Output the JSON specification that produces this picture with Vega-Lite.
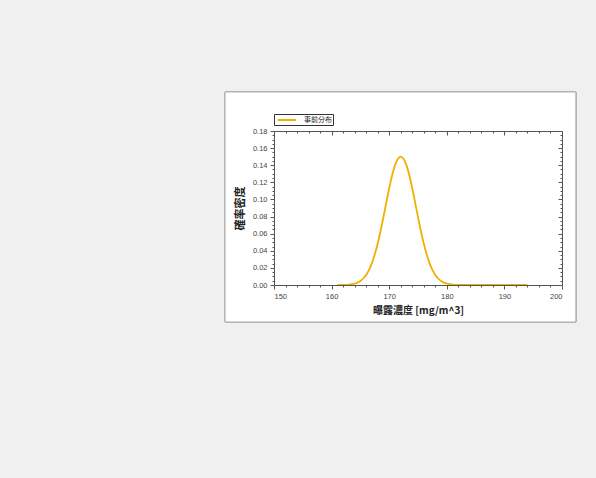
{
  "$schema": "https://vega.github.io/schema/vega-lite/v6.json",
  "autosize": "none",
  "width": 288,
  "height": 154,
  "padding": {"left": 274, "top": 131, "right": 34, "bottom": 193},
  "background": "#f0f0f0",
  "config": {
    "view": {"stroke": null},
    "axis": {
      "domainColor": "#555",
      "tickColor": "#555",
      "labelFont": "Liberation Sans",
      "labelFontSize": 7.5,
      "labelColor": "#444",
      "grid": false,
      "titleFont": "Noto Sans CJK JP",
      "titleFontWeight": "bold",
      "titleColor": "#222"
    }
  },
  "data": {
    "values": [
      {"c": 161, "d": 0.0, "series": "事前分布"},
      {"c": 162, "d": 0.0001, "series": "事前分布"},
      {"c": 163, "d": 0.0005, "series": "事前分布"},
      {"c": 164, "d": 0.0016, "series": "事前分布"},
      {"c": 164.5, "d": 0.0028, "series": "事前分布"},
      {"c": 165, "d": 0.0047, "series": "事前分布"},
      {"c": 165.5, "d": 0.0076, "series": "事前分布"},
      {"c": 166, "d": 0.0118, "series": "事前分布"},
      {"c": 166.5, "d": 0.0177, "series": "事前分布"},
      {"c": 167, "d": 0.0256, "series": "事前分布"},
      {"c": 167.5, "d": 0.0359, "series": "事前分布"},
      {"c": 168, "d": 0.0484, "series": "事前分布"},
      {"c": 168.5, "d": 0.0631, "series": "事前分布"},
      {"c": 169, "d": 0.0794, "series": "事前分布"},
      {"c": 169.5, "d": 0.0964, "series": "事前分布"},
      {"c": 170, "d": 0.1131, "series": "事前分布"},
      {"c": 170.5, "d": 0.128, "series": "事前分布"},
      {"c": 171, "d": 0.1398, "series": "事前分布"},
      {"c": 171.5, "d": 0.1474, "series": "事前分布"},
      {"c": 172, "d": 0.15, "series": "事前分布"},
      {"c": 172.5, "d": 0.1474, "series": "事前分布"},
      {"c": 173, "d": 0.1398, "series": "事前分布"},
      {"c": 173.5, "d": 0.128, "series": "事前分布"},
      {"c": 174, "d": 0.1131, "series": "事前分布"},
      {"c": 174.5, "d": 0.0964, "series": "事前分布"},
      {"c": 175, "d": 0.0794, "series": "事前分布"},
      {"c": 175.5, "d": 0.0631, "series": "事前分布"},
      {"c": 176, "d": 0.0484, "series": "事前分布"},
      {"c": 176.5, "d": 0.0359, "series": "事前分布"},
      {"c": 177, "d": 0.0256, "series": "事前分布"},
      {"c": 177.5, "d": 0.0177, "series": "事前分布"},
      {"c": 178, "d": 0.0118, "series": "事前分布"},
      {"c": 178.5, "d": 0.0076, "series": "事前分布"},
      {"c": 179, "d": 0.0047, "series": "事前分布"},
      {"c": 179.5, "d": 0.0028, "series": "事前分布"},
      {"c": 180, "d": 0.0016, "series": "事前分布"},
      {"c": 181, "d": 0.0005, "series": "事前分布"},
      {"c": 182, "d": 0.0001, "series": "事前分布"},
      {"c": 183, "d": 0.0, "series": "事前分布"},
      {"c": 194, "d": 0.0, "series": "事前分布"}
    ]
  },
  "layer": [
    {
      "mark": {"type": "rect", "fill": "white", "stroke": "#b4b4b4", "strokeWidth": 1},
      "encoding": {
        "x": {"datum": 141.5, "type": "quantitative", "scale": {"domain": [150, 200], "nice": false, "zero": false}, "axis": null},
        "x2": {"datum": 202.4},
        "y": {"datum": 0.2256, "type": "quantitative", "scale": {"domain": [0, 0.18], "nice": false}, "axis": null},
        "y2": {"datum": -0.0432}
      }
    },
    {
      "mark": {"type": "line", "strokeWidth": 1.8, "interpolate": "monotone"},
      "encoding": {
        "x": {
          "field": "c", "type": "quantitative",
          "axis": {"orient": "bottom", "zindex": 1, "values": [150, 160, 170, 180, 190, 200], "format": "d", "tickSize": 4, "labelPadding": 3, "title": "曝露濃度 [mg/m^3]", "titleFontSize": 10, "titlePadding": 6}
        },
        "y": {
          "field": "d", "type": "quantitative",
          "axis": {"orient": "left", "zindex": 1, "values": [0, 0.02, 0.04, 0.06, 0.08, 0.1, 0.12, 0.14, 0.16, 0.18], "format": ".2f", "tickSize": 4, "labelPadding": 3, "title": "確率密度", "titleFontSize": 11, "titlePadding": 7}
        },
        "color": {
          "field": "series", "type": "nominal",
          "scale": {"range": ["#f0b000"]},
          "legend": {
            "orient": "none", "legendX": 0, "legendY": -17, "title": null,
            "strokeColor": "#333", "fillColor": "white", "padding": 1,
            "symbolType": "M-2.3,0H2.3", "symbolSize": 64, "symbolStrokeWidth": 2,
            "symbolOffset": 7, "labelOffset": 12,
            "labelFont": "Noto Sans CJK JP", "labelFontSize": 7, "labelColor": "#222", "zindex": 2
          }
        }
      }
    },
    {
      "mark": {"type": "line", "opacity": 0},
      "encoding": {
        "x": {"field": "c", "type": "quantitative", "axis": {"orient": "bottom", "zindex": 1, "values": [152, 154, 156, 158, 162, 164, 166, 168, 172, 174, 176, 178, 182, 184, 186, 188, 192, 194, 196, 198], "labels": false, "domain": false, "tickSize": 2, "title": null}},
        "y": {"field": "d", "type": "quantitative", "axis": {"orient": "left", "zindex": 1, "values": [0.005, 0.01, 0.015, 0.025, 0.03, 0.035, 0.045, 0.05, 0.055, 0.065, 0.07, 0.075, 0.085, 0.09, 0.095, 0.105, 0.11, 0.115, 0.125, 0.13, 0.135, 0.145, 0.15, 0.155, 0.165, 0.17, 0.175], "labels": false, "domain": false, "tickSize": 2, "title": null}}
      }
    },
    {
      "mark": {"type": "line", "opacity": 0},
      "encoding": {
        "x": {"field": "c", "type": "quantitative", "axis": {"orient": "top", "zindex": 1, "values": [150, 160, 170, 180, 190, 200], "labels": false, "tickSize": -4, "title": null}},
        "y": {"field": "d", "type": "quantitative", "axis": {"orient": "right", "zindex": 1, "values": [0, 0.02, 0.04, 0.06, 0.08, 0.1, 0.12, 0.14, 0.16, 0.18], "labels": false, "tickSize": -4, "title": null}}
      }
    },
    {
      "mark": {"type": "line", "opacity": 0},
      "encoding": {
        "x": {"field": "c", "type": "quantitative", "axis": {"orient": "top", "zindex": 1, "values": [152, 154, 156, 158, 162, 164, 166, 168, 172, 174, 176, 178, 182, 184, 186, 188, 192, 194, 196, 198], "labels": false, "domain": false, "tickSize": -2, "title": null}},
        "y": {"field": "d", "type": "quantitative", "axis": {"orient": "right", "zindex": 1, "values": [0.005, 0.01, 0.015, 0.025, 0.03, 0.035, 0.045, 0.05, 0.055, 0.065, 0.07, 0.075, 0.085, 0.09, 0.095, 0.105, 0.11, 0.115, 0.125, 0.13, 0.135, 0.145, 0.15, 0.155, 0.165, 0.17, 0.175], "labels": false, "domain": false, "tickSize": -2, "title": null}}
      }
    }
  ],
  "resolve": {"axis": {"x": "independent", "y": "independent"}}
}
